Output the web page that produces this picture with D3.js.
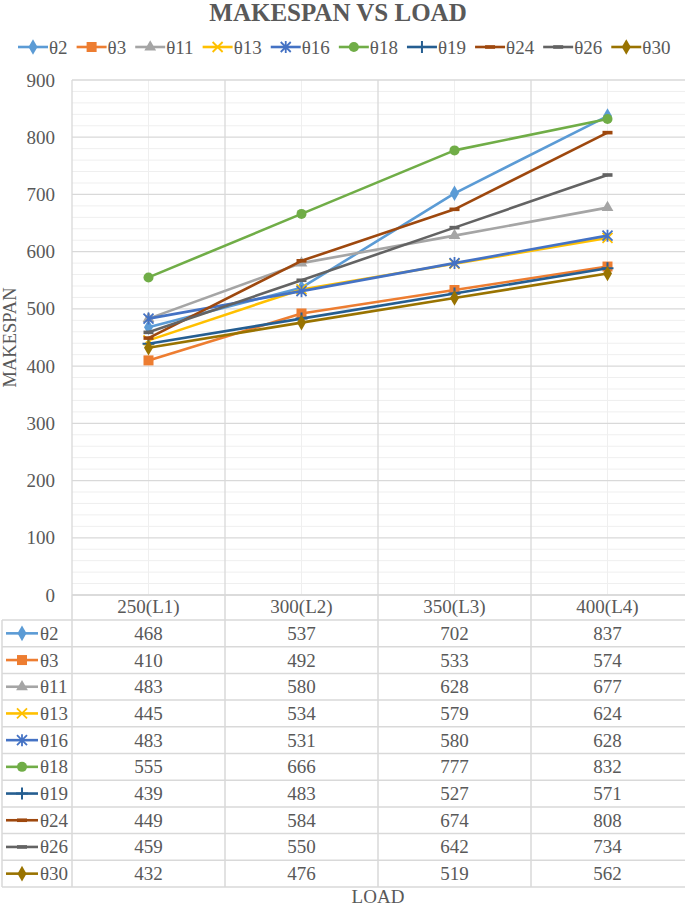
<!DOCTYPE html>
<html>
<head>
<meta charset="utf-8">
<script src="https://cdn.jsdelivr.net/npm/d3@7"></script>
<style>
  body { margin: 0; background: #fff; }
  text { font-family: "Liberation Serif", "Times New Roman", serif; fill: #595959; }
</style>
</head>
<body>
<div id="chart"></div>
<script>
// DATA ------------------------------
const loads = ["250(L1)", "300(L2)", "350(L3)", "400(L4)"];
const seriesNames = ["θ2", "θ3", "θ11", "θ13", "θ16", "θ18", "θ19", "θ24", "θ26", "θ30"];
const theta2  = [468, 537, 702, 837];
const theta3  = [410, 492, 533, 574];
const theta11 = [483, 580, 628, 677];
const theta13 = [445, 534, 579, 624];
const theta16 = [483, 531, 580, 628];
const theta18 = [555, 666, 777, 832];
const theta19 = [439, 483, 527, 571];
const theta24 = [449, 584, 674, 808];
const theta26 = [459, 550, 642, 734];
const theta30 = [432, 476, 519, 562];
const yTicks = [0, 100, 200, 300, 400, 500, 600, 700, 800, 900];

const colors = ["#5B9BD5", "#ED7D31", "#A5A5A5", "#FFC000", "#4472C4", "#70AD47", "#255E91", "#9E480E", "#636363", "#997300"];
const markers = ["diamond", "square", "triangle", "x", "star", "circle", "plus", "dash", "dash", "diamond"];
const allValues = [theta2, theta3, theta11, theta13, theta16, theta18, theta19, theta24, theta26, theta30];

const series = seriesNames.map((name, i) => ({name: name, values: allValues[i], color: colors[i], marker: markers[i]}));

// CHART INIT ------------------------------
const width = 685, height = 907;
const plot = {left: 72, right: 684, top: 80, bottom: 595};
const fs = 19;

let svg = d3.select("#chart").append("svg")
  .attr("width", width)
  .attr("height", height);

let xScale = d3.scaleBand().domain(loads).range([plot.left, plot.right]).padding(0);
let yScale = d3.scaleLinear().domain([0, 900]).range([plot.bottom, plot.top]);
const xc = d => xScale(d) + xScale.bandwidth() / 2;

// grid
let grid = svg.append("g");
d3.range(0, 901, 20).filter(v => v % 100 !== 0).forEach(v => {
  grid.append("line").attr("x1", plot.left).attr("x2", width).attr("y1", yScale(v)).attr("y2", yScale(v))
    .attr("stroke", "#efefef").attr("stroke-width", 1);
});
loads.forEach(l => {
  grid.append("line").attr("x1", xc(l)).attr("x2", xc(l)).attr("y1", plot.top).attr("y2", plot.bottom)
    .attr("stroke", "#efefef").attr("stroke-width", 1);
});
yTicks.forEach(v => {
  grid.append("line").attr("x1", plot.left).attr("x2", width).attr("y1", yScale(v)).attr("y2", yScale(v))
    .attr("stroke", "#d9d9d9").attr("stroke-width", 1.3);
});
loads.forEach(l => {
  grid.append("line").attr("x1", xScale(l)).attr("x2", xScale(l)).attr("y1", plot.top).attr("y2", plot.bottom)
    .attr("stroke", "#d9d9d9").attr("stroke-width", 1.3);
});

// y axis labels
let yAxis = d3.axisLeft(yScale).tickValues(yTicks).tickSize(0).tickPadding(17);
let yAxisGroup = svg.append("g").attr("transform", "translate(" + plot.left + ",0)").call(yAxis);
yAxisGroup.select(".domain").remove();
yAxisGroup.selectAll("text").attr("font-size", fs).attr("fill", "#595959")
  .attr("font-family", "Liberation Serif, serif");

svg.append("text")
  .attr("transform", "translate(16," + (plot.top + plot.bottom) / 2 + ") rotate(-90)")
  .attr("text-anchor", "middle")
  .attr("font-size", 18.5)
  .text("MAKESPAN");

// title
svg.append("text")
  .attr("x", 338).attr("y", 21)
  .attr("text-anchor", "middle")
  .attr("font-size", 25)
  .attr("font-weight", "bold")
  .text("MAKESPAN VS LOAD");

// markers
function drawMarker(g, type, x, y, color) {
  if (type === "diamond") {
    g.append("path").attr("d", d3.symbol(d3.symbolDiamond, 70)()).attr("transform", `translate(${x},${y})`).attr("fill", color);
  } else if (type === "square") {
    g.append("rect").attr("x", x - 5).attr("y", y - 5).attr("width", 10).attr("height", 10).attr("fill", color);
  } else if (type === "triangle") {
    g.append("path").attr("d", d3.symbol(d3.symbolTriangle, 60)()).attr("transform", `translate(${x},${y})`).attr("fill", color);
  } else if (type === "circle") {
    g.append("circle").attr("cx", x).attr("cy", y).attr("r", 5).attr("fill", color);
  } else if (type === "x") {
    g.append("path").attr("d", `M${x-5},${y-5}L${x+5},${y+5}M${x-5},${y+5}L${x+5},${y-5}`)
      .attr("stroke", color).attr("stroke-width", 1.8);
  } else if (type === "star") {
    g.append("path").attr("d", `M${x-5},${y-5}L${x+5},${y+5}M${x-5},${y+5}L${x+5},${y-5}M${x},${y-6}L${x},${y+6}`)
      .attr("stroke", color).attr("stroke-width", 1.8);
  } else if (type === "plus") {
    g.append("path").attr("d", `M${x-6},${y}L${x+6},${y}M${x},${y-6}L${x},${y+6}`)
      .attr("stroke", color).attr("stroke-width", 2);
  } else if (type === "dash") {
    g.append("rect").attr("x", x - 5).attr("y", y - 1.8).attr("width", 10).attr("height", 3.6).attr("fill", color);
  }
}

// lines
let line = d3.line().x((d, i) => xc(loads[i])).y(d => yScale(d));
let lines = svg.append("g");
series.forEach(s => {
  let g = lines.append("g");
  g.append("path").datum(s.values).attr("d", line)
    .attr("fill", "none").attr("stroke", s.color).attr("stroke-width", 2.6).attr("stroke-linejoin", "round");
  s.values.forEach((v, i) => drawMarker(g, s.marker, xc(loads[i]), yScale(v), s.color));
});

// legend on top
let legend = svg.append("g");
let lx = 18;
series.forEach(s => {
  legend.append("line").attr("x1", lx).attr("x2", lx + 30).attr("y1", 47).attr("y2", 47)
    .attr("stroke", s.color).attr("stroke-width", 2.6);
  drawMarker(legend, s.marker, lx + 15, 47, s.color);
  let t = legend.append("text").attr("x", lx + 31).attr("y", 53.5).attr("font-size", fs).text(s.name);
  lx += 31 + t.node().getComputedTextLength() + 9;
});

// DATA TABLE ------------------------------
const rowTop = 620, rowH = 26.7, tableLeft = 2;
let table = svg.append("g");
const tableBottom = rowTop + rowH * series.length;
// header row labels
loads.forEach(l => {
  table.append("text").attr("x", xc(l)).attr("y", 613).attr("text-anchor", "middle").attr("font-size", fs).text(l);
});
// horizontal lines
for (let i = 0; i <= series.length; i++) {
  table.append("line").attr("x1", tableLeft).attr("x2", width).attr("y1", rowTop + i * rowH).attr("y2", rowTop + i * rowH)
    .attr("stroke", "#d9d9d9").attr("stroke-width", 1.5);
}
// vertical lines
table.append("line").attr("x1", tableLeft).attr("x2", tableLeft).attr("y1", rowTop).attr("y2", tableBottom)
  .attr("stroke", "#d9d9d9").attr("stroke-width", 1.5);
loads.forEach(l => {
  table.append("line").attr("x1", xScale(l)).attr("x2", xScale(l)).attr("y1", plot.bottom).attr("y2", tableBottom)
    .attr("stroke", "#d9d9d9").attr("stroke-width", 1.5);
});
// x axis line
table.append("line").attr("x1", plot.left).attr("x2", width).attr("y1", plot.bottom).attr("y2", plot.bottom)
  .attr("stroke", "#d9d9d9").attr("stroke-width", 1.5);
// rows
series.forEach((s, r) => {
  const cy = rowTop + r * rowH + rowH / 2;
  table.append("line").attr("x1", 6).attr("x2", 38).attr("y1", cy).attr("y2", cy)
    .attr("stroke", s.color).attr("stroke-width", 2.6);
  drawMarker(table, s.marker, 22, cy, s.color);
  table.append("text").attr("x", 40).attr("y", cy + 6.5).attr("font-size", fs).text(s.name);
  s.values.forEach((v, i) => {
    table.append("text").attr("x", xc(loads[i])).attr("y", cy + 6.5).attr("text-anchor", "middle").attr("font-size", fs).text(v);
  });
});

svg.append("text").attr("x", 378).attr("y", 903).attr("text-anchor", "middle").attr("font-size", fs).text("LOAD");
</script>
</body>
</html>
